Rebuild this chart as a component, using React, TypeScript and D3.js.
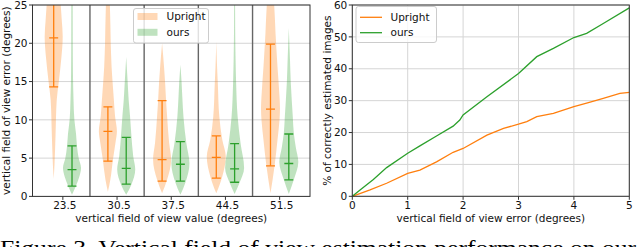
import * as d3 from "d3";

// left panel: violin plot per vertical fov bucket
const categories = ["23.5", "30.5", "37.5", "44.5", "51.5"];
const errTicks = [0, 5, 10, 15, 20, 25];

// violin outlines: [error (deg), relative half width]
const uprightViolins: [number, number][][] = [
  [[2.3, 0], [4, 0.08], [8.2, 0.2], [12.6, 0.32], [15.2, 0.56], [18, 0.8], [20.9, 0.95], [23, 0.85], [25, 0.74], [27, 0.6], [29, 0.3], [30, 0]],
  [[0.6, 0], [2.2, 0.26], [4.8, 0.53], [7, 0.8], [8.5, 0.95], [10.5, 0.75], [12.6, 0.63], [14.8, 0.5], [16.9, 0.39], [20, 0.3], [25, 0.21], [27, 0]],
  [[0.4, 0], [2.2, 0.53], [4.8, 0.95], [7, 0.74], [10.4, 0.53], [12.5, 0.42], [14.8, 0.32], [17, 0.2], [20, 0]],
  [[0.4, 0], [2.6, 0.63], [5.2, 1.0], [7.4, 0.63], [10.4, 0.32], [14.8, 0.16], [17, 0.08], [20.2, 0]],
  [[0.4, 0], [3.9, 0.42], [7.4, 0.74], [10, 0.95], [11.5, 1.0], [13, 0.95], [16.9, 0.74], [21.3, 0.53], [25, 0.39], [27, 0.25], [29, 0]],
];
const oursViolins: [number, number][][] = [
  [[0.2, 0], [1.4, 0.42], [2.5, 0.75], [3.7, 0.95], [5, 0.7], [6.5, 0.53], [8.2, 0.42], [10, 0.25], [12.6, 0.16], [16, 0.1], [20, 0.08], [25, 0.07], [26, 0]],
  [[0.2, 0], [1.5, 0.53], [3.5, 0.95], [5.2, 0.74], [8.2, 0.53], [10.5, 0.4], [12.6, 0.26], [15, 0.15], [18.2, 0]],
  [[0.2, 0], [1.8, 0.53], [4.3, 0.95], [6.9, 0.63], [10.4, 0.32], [13, 0.2], [15, 0.12], [17.2, 0]],
  [[0.3, 0], [1.8, 0.53], [3.7, 1.0], [6.9, 0.63], [10.4, 0.32], [14.8, 0.16], [18, 0.1], [22, 0.06], [25, 0.05], [26, 0]],
  [[0.3, 0], [2.2, 0.53], [4.5, 1.0], [6.4, 0.74], [8.2, 0.53], [10.4, 0.42], [14.8, 0.21], [18, 0.12], [22, 0]],
];
// [upper, middle, lower] marker values
const uprightStats = [[27, 20.7, 14.3], [11.7, 8.5, 4.6], [12.5, 4.8, 2.0], [7.9, 5.1, 2.4], [19.9, 11.4, 4.0]];
const oursStats = [[6.6, 3.5, 1.35], [7.7, 3.65, 1.6], [7.15, 4.2, 2.0], [6.9, 3.6, 1.85], [8.15, 4.3, 2.15]];

// right panel: cumulative accuracy
const pctTicks = [0, 10, 20, 30, 40, 50, 60];
const fovErrTicks = [0, 1, 2, 3, 4, 5];
const uprightErr = [0, 0.32, 0.62, 1.0, 1.22, 1.52, 1.82, 2.0, 2.43, 2.73, 3.0, 3.15, 3.33, 3.63, 4.0, 4.23, 4.53, 4.83, 5.0];
const uprightPct = [0, 2.0, 4.1, 7.2, 8.2, 10.8, 13.8, 15.0, 19.2, 21.3, 22.6, 23.4, 25.0, 26.0, 28.1, 29.2, 30.7, 32.3, 32.6];
const oursErr = [0, 0.14, 0.38, 0.62, 1.0, 1.22, 1.52, 1.82, 1.94, 2.0, 2.43, 3.0, 3.33, 3.63, 4.0, 4.23, 4.53, 5.0];
const oursPct = [0, 2.0, 5.3, 9.0, 13.5, 15.8, 18.9, 22.0, 23.9, 25.5, 31.2, 38.5, 43.8, 46.4, 49.8, 51.1, 54.2, 59.1];

const ORANGE = "#ff7f0e";
const GREEN = "#2ca02c";
const GRID = "#d5d5d5";
const FONT = "DejaVu Sans, sans-serif";

export default function App() {
  const xL = d3.scaleLinear().domain([-0.56, 4.56]).range([32.5, 310]);
  const yL = d3.scaleLinear().domain([0, 25]).range([196.4, 5]);
  const halfW = d3.scaleLinear().domain([0, 1]).range([0, 9.5]);
  const offset = 0.169;

  const xR = d3.scaleLinear().domain([0, 5]).range([352.3, 629.3]);
  const yR = d3.scaleLinear().domain([0, 60]).range([196.3, 5]);

  const violinPath = (prof: [number, number][], cx: number) =>
    d3
      .area<[number, number]>()
      .y((d) => yL(d[0]))
      .x0((d) => cx - halfW(d[1]))
      .x1((d) => cx + halfW(d[1]))
      .curve(d3.curveMonotoneY)(prof) ?? "";

  const line = d3
    .line<[number, number]>()
    .x((d) => xR(d[0]))
    .y((d) => yR(d[1]));

  const groups = [
    { name: "Upright", color: ORANGE, fill: ORANGE, violins: uprightViolins, stats: uprightStats, dx: -offset },
    { name: "ours", color: GREEN, fill: GREEN, violins: oursViolins, stats: oursStats, dx: offset },
  ];

  const [l0, l1] = xL.range();
  const [r0, r1] = xR.range();

  return (
    <svg width={640} height={247} style={{ position: "absolute", left: 0, top: 0, background: "#fff" }} fontFamily={FONT}>
      <defs>
        <clipPath id="clipL">
          <rect x={l0} y={yL(25)} width={l1 - l0} height={yL(0) - yL(25)} />
        </clipPath>
      </defs>

      {/* ---------- left panel ---------- */}
      {errTicks.map((t) => (
        <line key={"gl" + t} x1={l0} x2={l1} y1={yL(t)} y2={yL(t)} stroke={GRID} strokeWidth={1} />
      ))}
      {categories.slice(0, -1).map((_, i) => (
        <line key={"sep" + i} x1={xL(i + 0.5)} x2={xL(i + 0.5)} y1={yL(0)} y2={yL(25)} stroke="#666" strokeWidth={1.4} />
      ))}
      <g clipPath="url(#clipL)">
        {groups.map((g) =>
          g.violins.map((v, i) => {
            const cx = xL(i + g.dx);
            const [hi, mid, lo] = g.stats[i];
            const cw = halfW(0.47);
            return (
              <g key={g.name + i}>
                <path d={violinPath(v, cx)} fill={g.fill} fillOpacity={0.3} />
                <line x1={cx} x2={cx} y1={yL(hi)} y2={yL(lo)} stroke={g.color} strokeWidth={1.3} />
                {[hi, mid, lo].map((s, k) => (
                  <line key={k} x1={cx - cw} x2={cx + cw} y1={yL(s)} y2={yL(s)} stroke={g.color} strokeWidth={1.3} />
                ))}
              </g>
            );
          })
        )}
      </g>
      <rect x={l0} y={yL(25)} width={l1 - l0} height={yL(0) - yL(25)} fill="none" stroke="#333" strokeWidth={1} />
      {errTicks.map((t) => (
        <g key={"tl" + t}>
          <line x1={l0 - 3.5} x2={l0} y1={yL(t)} y2={yL(t)} stroke="#333" />
          <text x={l0 - 5} y={yL(t)} dy="0.35em" textAnchor="end" fontSize={10.5} fill="#111">
            {t}
          </text>
        </g>
      ))}
      {categories.map((c, i) => (
        <g key={"cx" + c}>
          <line x1={xL(i)} x2={xL(i)} y1={yL(0)} y2={yL(0) + 3.5} stroke="#333" />
          <text x={xL(i) + 2} y={yL(0) + 13} textAnchor="middle" fontSize={10.5} fill="#111">
            {c}
          </text>
        </g>
      ))}
      <text x={(l0 + l1) / 2} y={222} textAnchor="middle" fontSize={10.5} fill="#111">
        vertical field of view value (degrees)
      </text>
      <text transform={`translate(10,${(yL(0) + yL(25)) / 2}) rotate(-90)`} textAnchor="middle" fontSize={10.5} fill="#111">
        vertical field of view error (degrees)
      </text>
      {/* legend */}
      <g>
        <rect x={133.5} y={8.5} width={75} height={34.5} rx={2.5} fill="#fff" fillOpacity={0.8} stroke="#ccc" />
        {groups.map((g, k) => (
          <g key={"lgl" + g.name}>
            <rect x={137.5} y={13 + k * 15.8} width={20} height={7} fill={g.fill} fillOpacity={0.3} />
            <text x={166.5} y={16.5 + k * 15.8} dy="0.35em" fontSize={10.5} fill="#111">
              {g.name}
            </text>
          </g>
        ))}
      </g>

      {/* ---------- right panel ---------- */}
      {fovErrTicks.map((t) => (
        <line key={"gx" + t} x1={xR(t)} x2={xR(t)} y1={yR(0)} y2={yR(60)} stroke={GRID} />
      ))}
      {pctTicks.map((t) => (
        <line key={"gy" + t} x1={r0} x2={r1} y1={yR(t)} y2={yR(t)} stroke={GRID} />
      ))}
      <path d={line(uprightErr.map((e, i) => [e, uprightPct[i]])) ?? ""} fill="none" stroke={ORANGE} strokeWidth={1.3} />
      <path d={line(oursErr.map((e, i) => [e, oursPct[i]])) ?? ""} fill="none" stroke={GREEN} strokeWidth={1.3} />
      <rect x={r0} y={yR(60)} width={r1 - r0} height={yR(0) - yR(60)} fill="none" stroke="#333" strokeWidth={1} />
      {pctTicks.map((t) => (
        <g key={"ty" + t}>
          <line x1={r0 - 3.5} x2={r0} y1={yR(t)} y2={yR(t)} stroke="#333" />
          <text x={r0 - 5} y={yR(t)} dy="0.35em" textAnchor="end" fontSize={10.5} fill="#111">
            {t}
          </text>
        </g>
      ))}
      {fovErrTicks.map((t) => (
        <g key={"tx" + t}>
          <line x1={xR(t)} x2={xR(t)} y1={yR(0)} y2={yR(0) + 3.5} stroke="#333" />
          <text x={xR(t)} y={yR(0) + 13} textAnchor="middle" fontSize={10.5} fill="#111">
            {t}
          </text>
        </g>
      ))}
      <text x={(r0 + r1) / 2} y={222} textAnchor="middle" fontSize={10.5} fill="#111">
        vertical field of view error (degrees)
      </text>
      <text transform={`translate(331,${(yR(0) + yR(60)) / 2}) rotate(-90)`} textAnchor="middle" fontSize={10.5} fill="#111">
        % of correctly estimated images
      </text>
      <g>
        <rect x={356} y={6.5} width={80.5} height={36} rx={2.5} fill="#fff" fillOpacity={0.8} stroke="#ccc" />
        {groups.map((g, k) => (
          <g key={"lgr" + g.name}>
            <line x1={360} x2={382} y1={17.3 + k * 15.4} y2={17.3 + k * 15.4} stroke={g.color} strokeWidth={1.3} />
            <text x={390.5} y={17.3 + k * 15.4} dy="0.35em" fontSize={10.5} fill="#111">
              {g.name}
            </text>
          </g>
        ))}
      </g>

      {/* caption (cut by the frame) */}
      <text x={0} y={255} fontFamily="Liberation Serif, serif" fontSize={22} textLength={636} lengthAdjust="spacingAndGlyphs" fill="#000">
        Figure 3. Vertical field of view estimation performance on our
      </text>
    </svg>
  );
}
